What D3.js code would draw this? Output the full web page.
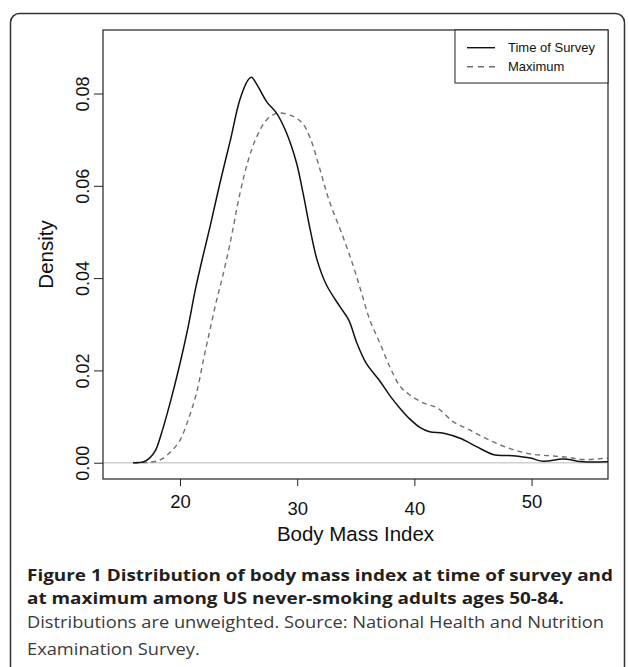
<!DOCTYPE html>
<html>
<head>
<meta charset="utf-8">
<script src="https://cdn.jsdelivr.net/npm/d3@7/dist/d3.min.js"></script>
<style>
  body { margin: 0; background: #fff; }
  svg { display: block; }
</style>
</head>
<body>
<div id="chart"></div>
<script>
// BMI density at time of survey (solid)
const surveyBMI = [16.0, 16.9, 17.4, 17.9, 18.4, 19.15, 20.0, 20.7, 21.3, 22.0, 22.56, 23.4, 24.3, 25.1, 25.8, 26.1, 26.5,
  27.4, 28.25, 29.1, 29.95, 30.5, 31.15, 31.7, 32.5, 33.65, 34.4, 35.1, 35.9, 37.05, 38.0, 38.8, 39.6, 40.5, 41.3,
  42.5, 43.9, 45.3, 46.7, 48.4, 49.9, 51.0, 52.7, 54.4, 56.6, 57.5];
const surveyDensity = [0, 0.0002, 0.001, 0.0026, 0.0062, 0.0129, 0.0215, 0.0295, 0.0374, 0.0452, 0.0511, 0.0605, 0.0699, 0.0786, 0.0829, 0.0835, 0.0822,
  0.0782, 0.0757, 0.0714, 0.0649, 0.0584, 0.0500, 0.0439, 0.0385, 0.0338, 0.0309, 0.0259, 0.0215, 0.0177, 0.0142, 0.0117, 0.0095, 0.0076, 0.0067,
  0.0064, 0.0053, 0.0035, 0.0018, 0.0015, 0.0010, 0.0003, 0.0008, 0.0002, 0.0002, 0.0001];

// BMI density at maximum (dashed)
const maxBMI = [16.0, 17.4, 18.3, 19.15, 20.0, 20.7, 21.4, 22.0, 22.56, 23.13, 23.65, 24.27, 25.12, 25.83, 26.54, 27.4, 28.25,
  29.4, 30.4, 31.1, 31.95, 32.7, 33.9, 34.8, 35.5, 36.2, 37.06, 37.9, 38.8, 39.6, 40.8, 42.0, 43.3, 44.7, 46.4,
  48.1, 49.9, 51.6, 53.0, 54.4, 56.6, 57.5];
const maxDensity = [0, 0.0001, 0.0006, 0.0022, 0.0049, 0.0093, 0.0150, 0.0223, 0.0288, 0.0353, 0.0405, 0.0475, 0.0584, 0.0656, 0.0706, 0.0743, 0.0757,
  0.0753, 0.0737, 0.0704, 0.0635, 0.0570, 0.0490, 0.0425, 0.0367, 0.0309, 0.0259, 0.0208, 0.0165, 0.0147, 0.0129, 0.0118, 0.0089, 0.0071, 0.0049,
  0.0031, 0.0019, 0.0015, 0.0012, 0.0007, 0.0010, 0.0010];

const xTicks = [20, 30, 40, 50];
const yTicks = [0, 0.02, 0.04, 0.06, 0.08];
const legendLabels = ['Time of Survey', 'Maximum'];
const captionBold = ['Figure 1 Distribution of body mass index at time of survey and',
  'at maximum among US never-smoking adults ages 50-84.'];
const captionPlain = ['Distributions are unweighted. Source: National Health and Nutrition',
  'Examination Survey.'];

const width = 628, height = 667;
const plot = {left: 103, top: 30, right: 608, bottom: 479};
const rFont = '"Liberation Sans", Arial, Helvetica, sans-serif';
const capFont = '"Open Sans", "Noto Sans", sans-serif';

const svg = d3.select('#chart').append('svg')
  .attr('width', width)
  .attr('height', height);

// outer figure frame, open at the bottom
svg.append('rect')
  .attr('x', 10.5).attr('y', 13.5)
  .attr('width', 614).attr('height', 700)
  .attr('rx', 9)
  .attr('fill', 'none')
  .attr('stroke', '#333')
  .attr('stroke-width', 1.5);

const x = d3.scaleLinear().domain([13.43, 56.52]).range([plot.left, plot.right]);
const y = d3.scaleLinear().domain([-0.00353, 0.09376]).range([plot.bottom, plot.top]);

svg.append('clipPath').attr('id', 'clip')
  .append('rect')
  .attr('x', plot.left).attr('y', plot.top)
  .attr('width', plot.right - plot.left).attr('height', plot.bottom - plot.top);

// zero reference line
svg.append('line')
  .attr('x1', plot.left).attr('x2', plot.right)
  .attr('y1', y(0)).attr('y2', y(0))
  .attr('stroke', '#d0d0d0')
  .attr('stroke-width', 1.5);

const line = d3.line()
  .x(d => x(d[0]))
  .y(d => y(d[1]))
  .curve(d3.curveCatmullRom.alpha(0.5));

const curves = svg.append('g').attr('clip-path', 'url(#clip)');

curves.append('path')
  .datum(maxBMI.map((v, i) => [v, maxDensity[i]]))
  .attr('d', line)
  .attr('fill', 'none')
  .attr('stroke', '#707070')
  .attr('stroke-width', 1.4)
  .attr('stroke-dasharray', '5,4');

curves.append('path')
  .datum(surveyBMI.map((v, i) => [v, surveyDensity[i]]))
  .attr('d', line)
  .attr('fill', 'none')
  .attr('stroke', '#111')
  .attr('stroke-width', 1.5);

// plot box
svg.append('rect')
  .attr('x', plot.left).attr('y', plot.top)
  .attr('width', plot.right - plot.left).attr('height', plot.bottom - plot.top)
  .attr('fill', 'none')
  .attr('stroke', '#222')
  .attr('stroke-width', 1.2);

// x axis
const xAxis = svg.append('g')
  .attr('transform', `translate(0,${plot.bottom})`)
  .call(d3.axisBottom(x).tickValues(xTicks).tickSize(7).tickSizeOuter(0).tickFormat(d3.format('d')));
xAxis.select('.domain').remove();
xAxis.selectAll('.tick line').attr('stroke', '#222');
xAxis.selectAll('.tick text')
  .attr('y', (d, i) => i % 3 === 0 ? 29 : 36)   // labels sit a little staggered in the original
  .attr('dy', 0)
  .style('font-family', rFont)
  .style('font-size', '18.5px')
  .attr('fill', '#111');

// y axis
const yAxis = svg.append('g')
  .attr('transform', `translate(${plot.left},0)`)
  .call(d3.axisLeft(y).tickValues(yTicks).tickSize(9).tickSizeOuter(0).tickFormat(d3.format('.2f')));
yAxis.select('.domain').remove();
yAxis.selectAll('.tick line').attr('stroke', '#222');
yAxis.selectAll('.tick text')
  .attr('x', 0).attr('dy', 0)
  .attr('transform', 'translate(-14,0) rotate(-90)')
  .attr('text-anchor', 'middle')
  .style('font-family', rFont)
  .style('font-size', '18px')
  .attr('fill', '#111');

// axis titles
svg.append('text')
  .attr('x', (plot.left + plot.right) / 2).attr('y', 541)
  .attr('text-anchor', 'middle')
  .style('font-family', rFont).style('font-size', '20.5px')
  .attr('fill', '#111')
  .text('Body Mass Index');

svg.append('text')
  .attr('transform', `translate(53,${(plot.top + plot.bottom) / 2}) rotate(-90)`)
  .attr('text-anchor', 'middle')
  .style('font-family', rFont).style('font-size', '20.5px')
  .attr('fill', '#111')
  .text('Density');

// legend
const legend = svg.append('g');
legend.append('rect')
  .attr('x', 455).attr('y', plot.top)
  .attr('width', plot.right - 455).attr('height', 53)
  .attr('fill', '#fff')
  .attr('stroke', '#222')
  .attr('stroke-width', 1);

legendLabels.forEach((label, i) => {
  const ly = 47.7 + i * 19;
  legend.append('line')
    .attr('x1', 467).attr('x2', 495)
    .attr('y1', ly).attr('y2', ly)
    .attr('stroke', i === 0 ? '#111' : '#707070')
    .attr('stroke-width', 1.4)
    .attr('stroke-dasharray', i === 0 ? null : '6,5');
  legend.append('text')
    .attr('x', 508).attr('y', ly + 4.6)
    .style('font-family', rFont).style('font-size', '13px')
    .attr('fill', '#111')
    .text(label);
});

// caption: fixed size, first line of each block stretched to the original width
function captionLines(lines, weight, color, baselines, fs, targetWidth) {
  const texts = lines.map((t, i) => svg.append('text')
    .attr('x', 27).attr('y', baselines[i])
    .style('font-family', capFont)
    .style('font-weight', weight)
    .style('font-size', fs + 'px')
    .attr('fill', color)
    .text(t));
  const ratio = targetWidth / texts[0].node().getComputedTextLength();
  texts.forEach(t => {
    const w = t.node().getComputedTextLength();
    t.attr('textLength', w * ratio).attr('lengthAdjust', 'spacingAndGlyphs');
  });
}

captionLines(captionBold, 700, '#231f20', [581, 604.3], 16, 586);
captionLines(captionPlain, 400, '#3a3a3a', [627.7, 655], 16, 577);
</script>
</body>
</html>
